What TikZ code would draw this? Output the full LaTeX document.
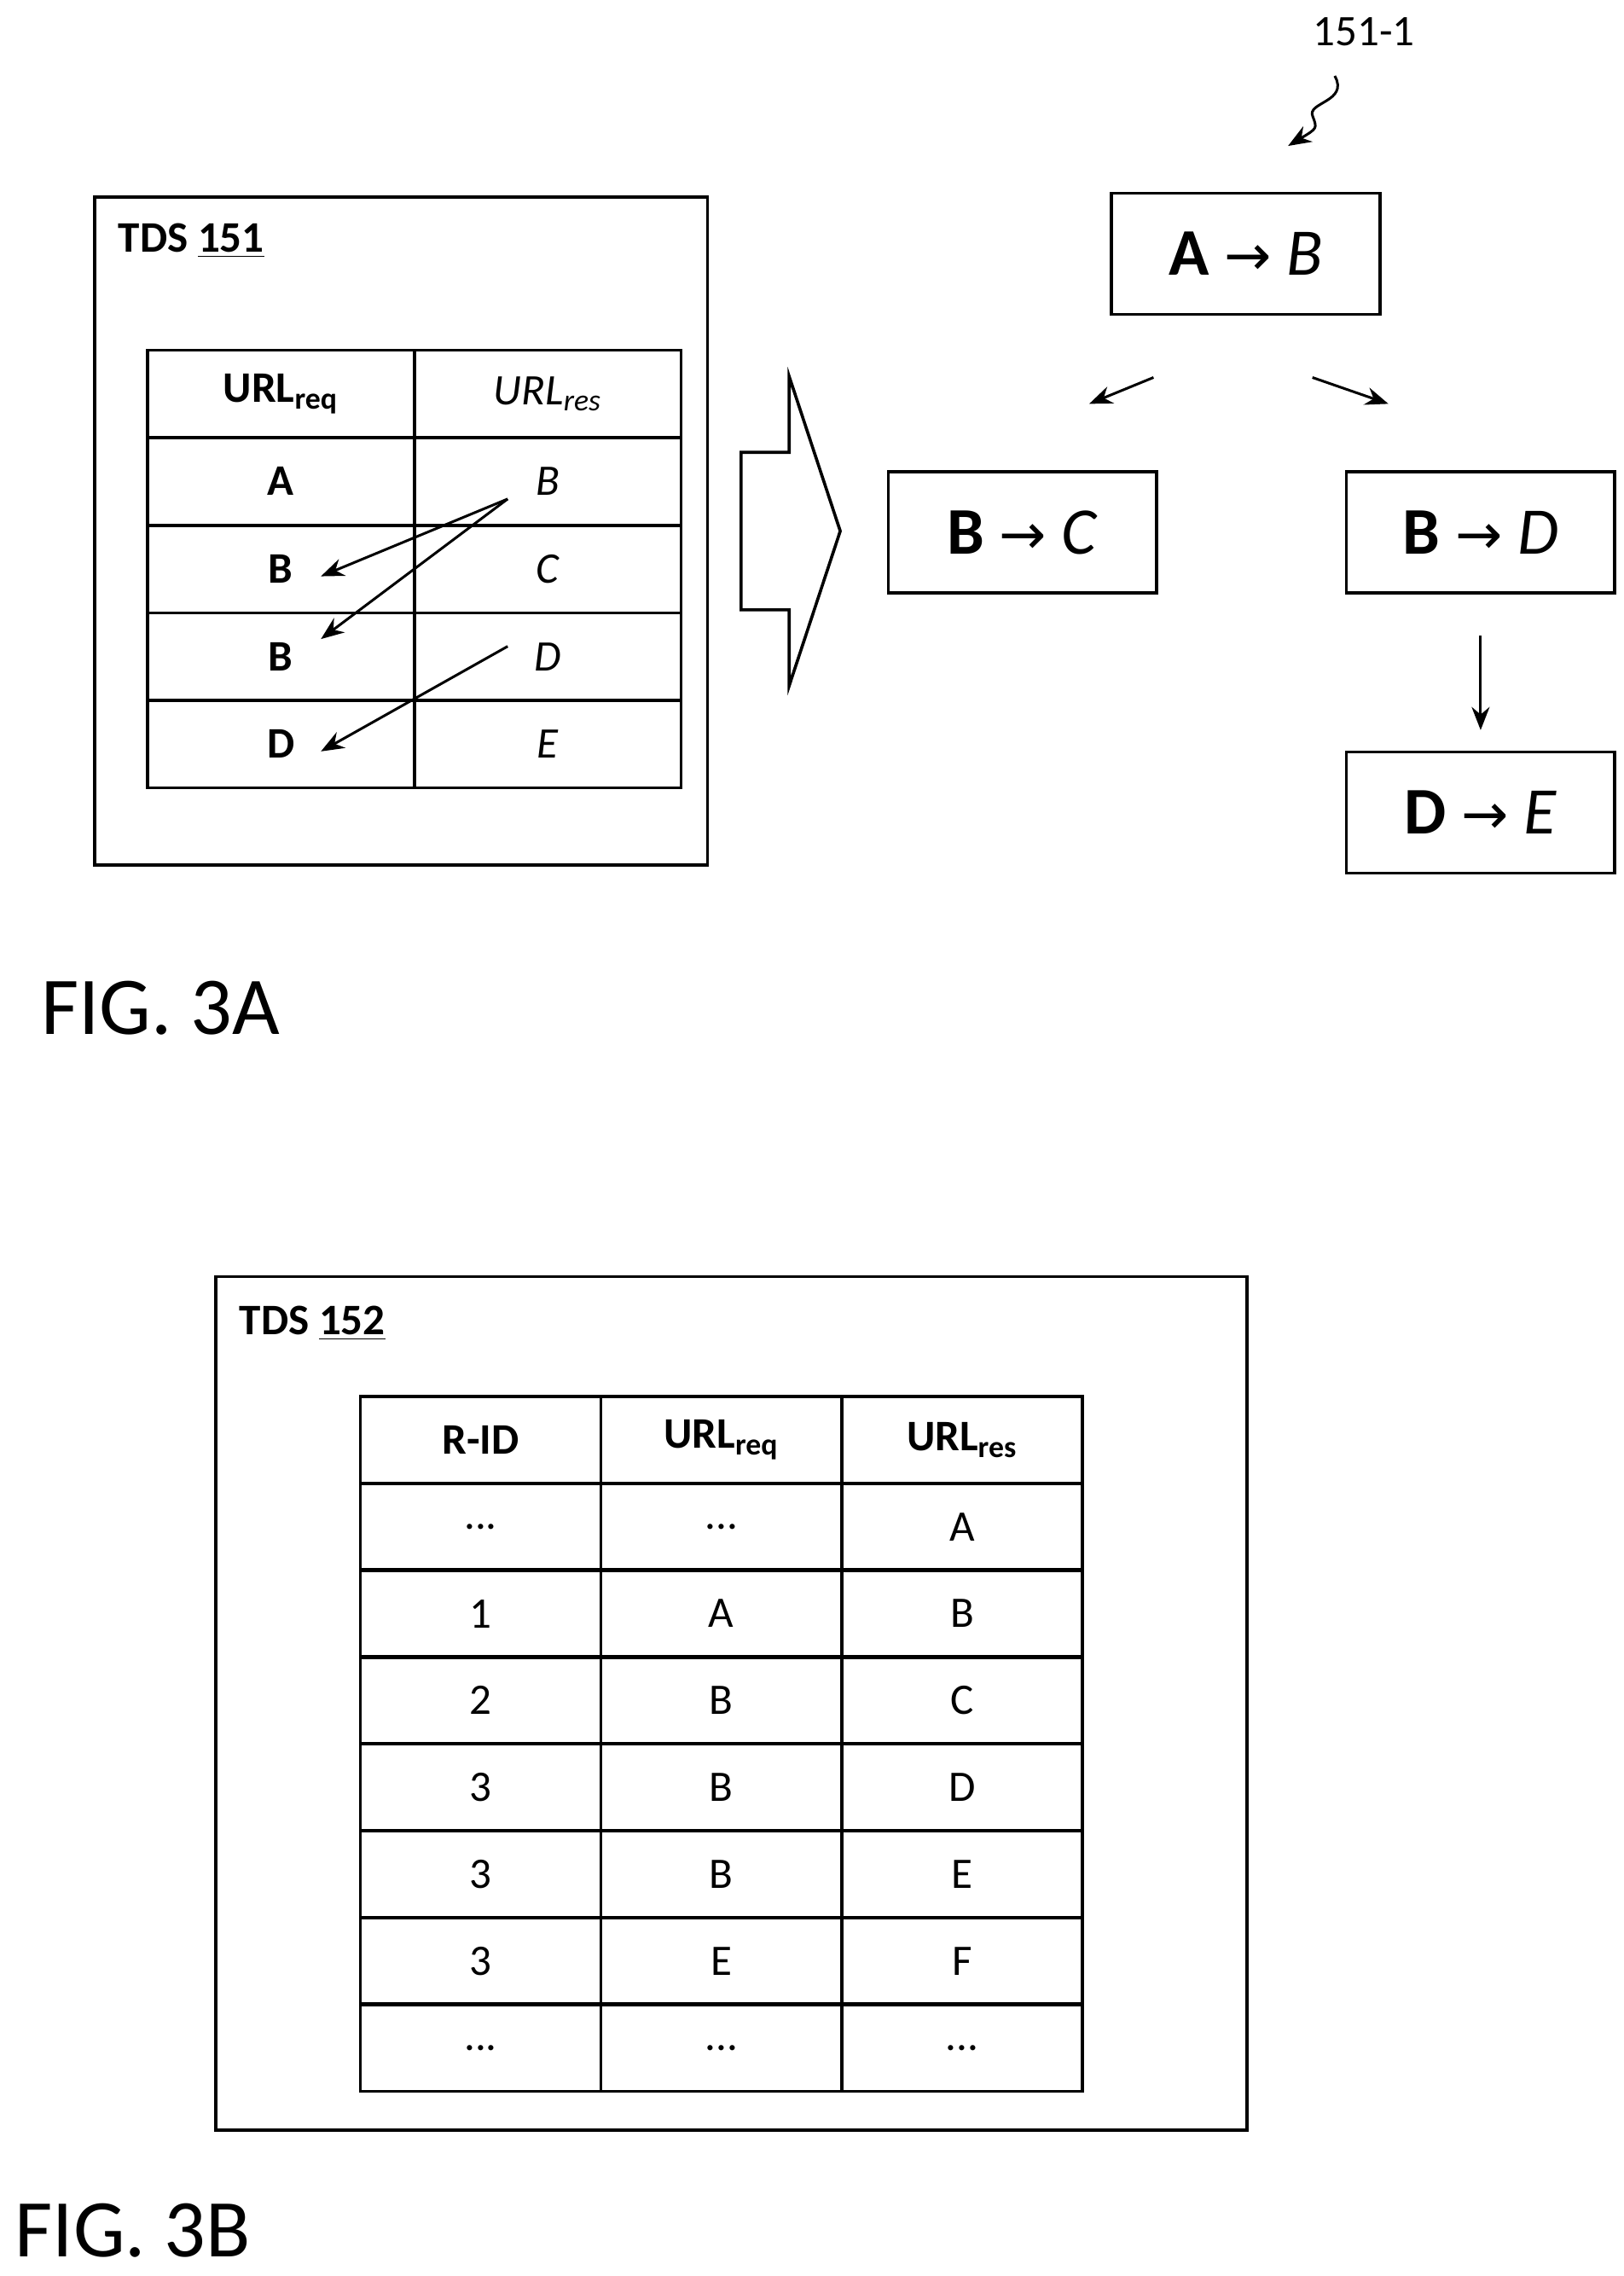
\documentclass[tikz,border=0pt]{standalone}
\usepackage{fontspec}
\setmainfont{Carlito}
\newfontfamily\arrowfont{DejaVu Sans}
\usetikzlibrary{arrows.meta,positioning}
\newcommand{\ra}{{\arrowfont\fontsize{22}{22}\selectfont →}}
\newcommand{\dd}{...}
\tikzset{
  frame/.style={draw, line width=1.2pt},
  cell/.style={draw, line width=1.2pt, minimum width=3.66cm, minimum height=1.2cm, inner sep=0pt, font=\fontsize{17}{17}\selectfont},
  cellb/.style={cell, minimum width=3.3cm},
  rule/.style={draw, line width=1.2pt, minimum width=3.68cm, minimum height=1.66cm, font=\fontsize{26}{26}\selectfont},
  link/.style={-{Stealth[length=9pt,width=7pt]}, line width=1pt},
  figcap/.style={anchor=north west, inner sep=0pt, font=\fontsize{32}{32}\selectfont}
}
\begin{document}
\begin{tikzpicture}[x=0.02cm, y=-0.02cm]
  \useasboundingbox (0,0) rectangle (1113,1560);

  % FIG. 3A
  \draw[frame] (65,135) rectangle (485,593);
  \node[anchor=west, font=\bfseries\fontsize{17}{17}\selectfont] (tds1) at (75,165) {TDS \underline{151}};
  \node[cell] (h1) at (192.5,270) {\textbf{URL\textsubscript{req}}};
  \node[cell] (h2) at (375.5,270) {\textit{URL\textsubscript{res}}};
  \foreach \l/\r [count=\i] in {A/B, B/C, B/D, D/E} {
    \node[cell] (l\i) at (192.5,270+60*\i) {\textbf{\l}};
    \node[cell] (r\i) at (375.5,270+60*\i) {\textit{\r}};
  }
  \coordinate (s1) at (348,342);
  \coordinate (s2) at (348,443);
  \draw[link] (s1) -- (220,395);
  \draw[link] (s1) -- (220,438);
  \draw[link] (s2) -- (220,515);

  % derivation arrow
  \draw[line width=1.2pt] (508,310) -- (541,310) -- (541,258) -- (576,364)
    -- (541,470) -- (541,418) -- (508,418) -- cycle;

  \node[rule] (ab) at (854,174) {\textbf{A} \ra{} \textit{B}};
  \node[rule] (bc) at (701,365) {\textbf{B} \ra{} \textit{C}};
  \node[rule] (bd) at (1015,365) {\textbf{B} \ra{} \textit{D}};
  \node[rule] (de) at (1015,557) {\textbf{D} \ra{} \textit{E}};
  \draw[link] ([xshift=-36pt,yshift=-24pt]ab.south) -- ([xshift=26pt,yshift=26pt]bc.north);
  \draw[link] ([xshift=26pt,yshift=-24pt]ab.south) -- ([xshift=-36pt,yshift=26pt]bd.north);
  \draw[link] ([yshift=-16pt]bd.south) -- ([yshift=8pt]de.north);

  \node[font=\fontsize{17}{17}\selectfont] (lbl) at (935,22) {151-1};
  \draw[-{Stealth[length=9pt,width=7pt]}, line width=1pt] (915,52)
    .. controls (925,70) and (895,70) .. (900,80) .. controls (903,88) .. (883,100);

  \node[figcap] (f3a) at (28,672) {FIG. 3A};

  % FIG. 3B
  \draw[frame] (148,875) rectangle (855,1460);
  \node[anchor=west, font=\bfseries\fontsize{17}{17}\selectfont] (tds2) at (158,907) {TDS \underline{152}};
  \node[cellb] (t01) at (329.5,987) {\textbf{R-ID}};
  \node[cellb] (t02) at (494.5,987) {\textbf{URL\textsubscript{req}}};
  \node[cellb] (t03) at (659.5,987) {\textbf{URL\textsubscript{res}}};
  \foreach \a/\b/\c [count=\i] in {\dd/\dd/A, 1/A/B, 2/B/C, 3/B/D, 3/B/E, 3/E/F, \dd/\dd/\dd} {
    \node[cellb] (t\i a) at (329.5,987+59.5*\i) {\a};
    \node[cellb] (t\i b) at (494.5,987+59.5*\i) {\b};
    \node[cellb] (t\i c) at (659.5,987+59.5*\i) {\c};
  }

  \node[figcap] (f3b) at (10,1510) {FIG. 3B};
\end{tikzpicture}
\end{document}
